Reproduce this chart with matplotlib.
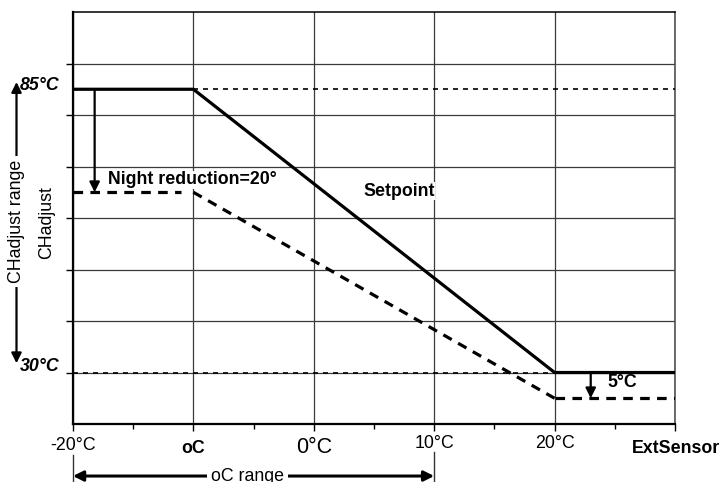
#heating curve: setpoint vs outside temperature

import matplotlib.pyplot as plt

plt.rcParams['font.family'] = ['Liberation Sans', 'DejaVu Sans']

# setpoint curve (solid)
setpoint_x = [-20, -10, 20, 30]
setpoint_y = [85, 85, 30, 30]

# night reduced curve (dashed), in three pieces
night_flat_x = [-20, -11]
night_flat_y = [65, 65]
night_slope_x = [-10, 20]
night_slope_y = [65, 25]
night_end_x = [20, 30]
night_end_y = [25, 25]

# dotted reference levels
ref_high = 85
ref_low = 30

x_ticks = [-20, -10, 0, 10, 20, 30]
y_ticks = [30, 40, 50, 60, 70, 80, 90]

fs = 12.8

fig = plt.figure(figsize=(7.21, 4.82), dpi=100)
ax = fig.add_axes([0.1012, 0.1203, 0.8350, 0.8548])
ax.set_xlim(-20, 30)
ax.set_ylim(20, 100)

ax.set_xticks(x_ticks)
ax.set_xticks([-15, -5, 5, 15, 25], minor=True)
ax.set_yticks(y_ticks)
ax.set_xticklabels([])
ax.set_yticklabels([])
ax.tick_params(axis='both', which='major', direction='out', length=5, width=1)
ax.tick_params(axis='x', which='minor', direction='out', length=3.5, width=1)
ax.grid(True, which='major', color='#3a3a3a', lw=0.9)
ax.set_axisbelow(True)

for s in ['left', 'bottom']:
    ax.spines[s].set_linewidth(1.6)
for s in ['top', 'right']:
    ax.spines[s].set_linewidth(1.1)
ax.spines['right'].set_color('#444444')

# dotted reference lines
ax.plot([-10, 30], [ref_high, ref_high], color='black', lw=1.2, ls=(0, (3, 3)), zorder=3)
ax.plot([-20, 20], [ref_low, ref_low], color='black', lw=1.2, ls=(0, (3, 3)), zorder=3)

# curves
ax.plot(setpoint_x, setpoint_y, color='black', lw=2.3, zorder=4)
dash = (0, (3, 2.3))
ax.plot(night_flat_x, night_flat_y, color='black', lw=2.3, ls=dash, zorder=4)
ax.plot(night_slope_x, night_slope_y, color='black', lw=2.3, ls=dash, zorder=4)
ax.plot(night_end_x, night_end_y, color='black', lw=2.3, ls=dash, zorder=4)

# reduction arrows
arr = dict(arrowstyle='-|>', color='black', lw=1.6, mutation_scale=15, shrinkA=0, shrinkB=0)
ax.annotate('', xy=(-18.2, 65), xytext=(-18.2, 85), arrowprops=arr, zorder=5)
ax.annotate('', xy=(23, 25), xytext=(23, 30), arrowprops=arr, zorder=5)

bb = dict(facecolor='white', edgecolor='none', pad=0.5)
ax.text(-17.1, 67.4, 'Night reduction=20°', fontsize=fs, fontweight='bold', va='center', ha='left', bbox=bb, zorder=6)
ax.text(4.1, 65.2, 'Setpoint', fontsize=fs, fontweight='bold', va='center', ha='left', bbox=bb, zorder=6)
ax.text(24.4, 28.0, '5°C', fontsize=fs, fontweight='bold', va='center', ha='left', zorder=6)

# left side: range arrow and labels
ax.text(-21.15, 85.8, '85°C', fontsize=fs, fontweight='bold', style='italic', ha='right', va='center', clip_on=False)
ax.text(-21.15, 31.1, '30°C', fontsize=fs, fontweight='bold', style='italic', ha='right', va='center', clip_on=False)
ax.annotate('', xy=(-24.69, 86.4), xytext=(-24.69, 31.8),
            arrowprops=dict(arrowstyle='<|-|>', color='black', lw=1.6, mutation_scale=15, shrinkA=0, shrinkB=0),
            annotation_clip=False)
ax.text(-24.69, 59.3, 'CHadjust range', rotation=90, fontsize=fs, ha='center', va='center',
        bbox=dict(facecolor='white', edgecolor='none', pad=3), clip_on=False)
ax.text(-22.16, 59.2, 'CHadjust', rotation=90, fontsize=fs, ha='center', va='center', clip_on=False)

# x tick labels
ax.text(-20, 15.9, '-20°C', fontsize=fs, ha='center', va='center', clip_on=False)
ax.text(-10, 15.15, 'oC', fontsize=fs, fontweight='bold', ha='center', va='center', clip_on=False)
ax.text(0, 15.5, '0°C', fontsize=15.5, ha='center', va='center', clip_on=False)
ax.text(10, 16.3, '10°C', fontsize=fs, ha='center', va='center', clip_on=False)
ax.text(20, 16.3, '20°C', fontsize=fs, ha='center', va='center', clip_on=False)
ax.text(30.1, 15.15, 'ExtSensor', fontsize=fs, fontweight='bold', ha='center', va='center', clip_on=False)

# bottom range arrow
ax.plot([-20, -20], [14.0, 8.0], color='#333333', lw=1, clip_on=False)
ax.plot([10, 10], [14.6, 8.0], color='#333333', lw=1, clip_on=False)
ax.annotate('', xy=(-20, 9.9), xytext=(10, 9.9),
            arrowprops=dict(arrowstyle='<|-|>', color='black', lw=2.2, mutation_scale=15, shrinkA=0, shrinkB=0),
            annotation_clip=False)
ax.text(-5.5, 9.9, 'oC range', fontsize=fs, ha='center', va='center',
        bbox=dict(facecolor='white', edgecolor='none', pad=3), clip_on=False)

fig.savefig('out.png', dpi=100)
